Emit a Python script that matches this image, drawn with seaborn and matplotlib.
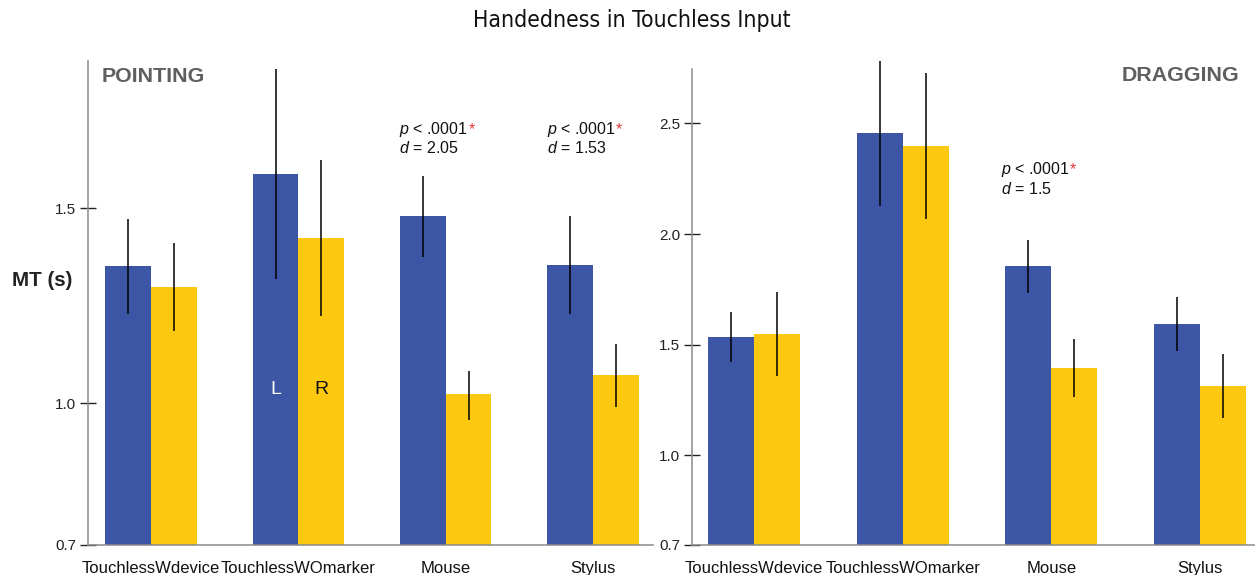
import numpy as np
import pandas as pd
import matplotlib
matplotlib.use("Agg")
import matplotlib.pyplot as plt
import matplotlib.transforms as mtransforms
from matplotlib.ticker import FormatStrFormatter
import seaborn as sns

# ---- data -------------------------------------------------------------
devices = ["TouchlessWdevice", "TouchlessWOmarker", "Mouse", "Stylus"]
hands = ["L", "R"]

# Pointing: mean movement time (s) and error half-widths
pointing_left = [1.352, 1.588, 1.480, 1.355]
pointing_right = [1.298, 1.424, 1.024, 1.072]
pointing_left_err = [0.122, 0.270, 0.104, 0.126]
pointing_right_err = [0.112, 0.200, 0.059, 0.079]

# Dragging: mean movement time (s) and error half-widths
dragging_left = [1.535, 2.456, 1.855, 1.593]
dragging_right = [1.548, 2.398, 1.395, 1.313]
dragging_left_err = [0.113, 0.327, 0.120, 0.122]
dragging_right_err = [0.190, 0.332, 0.132, 0.145]

# significance notes per panel
pointing_sig_devices = ["Mouse", "Stylus"]
pointing_sig_d = ["2.05", "1.53"]
dragging_sig_devices = ["Mouse"]
dragging_sig_d = ["1.5"]

pointing_yticks = [0.7, 1.0, 1.5]
dragging_yticks = [0.7, 1.0, 1.5, 2.0, 2.5]

# ---- style ------------------------------------------------------------
sns.set_theme(style="white")
plt.rcParams["font.family"] = ["Liberation Sans", "DejaVu Sans"]
plt.rcParams["mathtext.fontset"] = "custom"
plt.rcParams["mathtext.it"] = "Liberation Sans:italic"
plt.rcParams["mathtext.rm"] = "Liberation Sans"

BLUE = "#3C56A5"
YELLOW = "#FCC810"
SPINE = "#8a8a8a"
DARK = "#222222"

W, H = 1255, 575
fig = plt.figure(figsize=(W / 100, H / 100), dpi=100)


def px_axes(x0, x1, y_top, y_bottom):
    return fig.add_axes([x0 / W, 1 - y_bottom / H, (x1 - x0) / W, (y_bottom - y_top) / H])


def stretched_scale(ax, k):
    # values below 1.0 get a stretched band so the 0.7 floor sits on the baseline
    def fwd(y):
        y = np.asarray(y, dtype=float)
        return np.where(y >= 1.0, y, 1.0 - (1.0 - y) * k)

    def inv(v):
        v = np.asarray(v, dtype=float)
        return np.where(v >= 1.0, v, 1.0 - (1.0 - v) / k)

    ax.set_yscale("function", functions=(fwd, inv))


def draw_panel(ax, left, right, left_err, right_err, k, ytop, xlim, yticks):
    df = pd.DataFrame({
        "device": devices * 2,
        "hand": ["L"] * len(devices) + ["R"] * len(devices),
        "mt": list(left) + list(right),
    })
    sns.barplot(data=df, x="device", y="mt", hue="hand", order=devices,
                hue_order=hands, palette=[BLUE, YELLOW], width=0.62,
                errorbar=None, saturation=1, legend=False, linewidth=0, ax=ax)

    stretched_scale(ax, k)
    ax.set_ylim(0.7, ytop)
    ax.set_xlim(*xlim)

    centers = {}
    for hand, cont, vals, errs in zip(hands, ax.containers[:2],
                                      [left, right], [left_err, right_err]):
        xs = [b.get_x() + b.get_width() / 2 for b in cont]
        centers[hand] = (xs, [b.get_x() for b in cont])
        vals = np.asarray(vals)
        errs = np.asarray(errs)
        ax.vlines(xs, vals - errs, vals + errs, colors="black",
                  linewidth=1.1, clip_on=False, zorder=3)

    ax.set_yticks(yticks)
    ax.yaxis.set_major_formatter(FormatStrFormatter("%.1f"))
    ax.yaxis.set_minor_locator(matplotlib.ticker.NullLocator())
    ax.tick_params(axis="y", left=True, direction="inout", length=11, width=1,
                   color=DARK, labelsize=11, pad=3, labelcolor=DARK)
    ax.tick_params(axis="x", bottom=False, length=0, labelsize=12, pad=11.5,
                   labelcolor="#111111")
    ax.set_xlabel("")
    ax.set_ylabel("")
    for s in ("top", "right"):
        ax.spines[s].set_visible(False)
    for s in ("left", "bottom"):
        ax.spines[s].set_color(SPINE)
        ax.spines[s].set_linewidth(1.1)
    return centers


def sig_note(ax, x, y1, y2, d_text, notes):
    t = ax.text(x, y1, r"$p$ < .0001", ha="left", va="baseline",
                fontsize=11.5, color="#111111")
    ax.text(x, y2, r"$d$ = " + d_text, ha="left", va="baseline",
            fontsize=11.5, color="#111111")
    notes.append(t)


ax_p = px_axes(88, 653, 61, 545)
ax_d = px_axes(692, 1255, 69, 545)

cp = draw_panel(ax_p, pointing_left, pointing_right, pointing_left_err,
                pointing_right_err, k=1.211, ytop=1.878,
                xlim=(-0.428, 3.407), yticks=pointing_yticks)
cd = draw_panel(ax_d, dragging_left, dragging_right, dragging_left_err,
                dragging_right_err, k=1.351, ytop=2.746,
                xlim=(-0.417, 3.37), yticks=dragging_yticks)

notes = []
for dev, d in zip(pointing_sig_devices, pointing_sig_d):
    i = devices.index(dev)
    sig_note(ax_p, cp["L"][1][i] - 0.005, 1.690, 1.641, d, notes)
for dev, d in zip(dragging_sig_devices, dragging_sig_d):
    i = devices.index(dev)
    sig_note(ax_d, cd["L"][1][i] - 0.03, 2.271, 2.181, d, notes)

# hand labels inside the second pointing group
j = devices.index("TouchlessWOmarker")
ax_p.text(cp["L"][0][j], 1.023, "L", ha="center", va="baseline",
          color="white", fontsize=14)
ax_p.text(cp["R"][0][j], 1.023, "R", ha="center", va="baseline",
          color="#111111", fontsize=14)

# headings
fig.text(632 / W, 1 - 21 / H, "Handedness in Touchless Input", ha="center",
         va="center", fontsize=16.5, family="DejaVu Sans",
         fontstretch="condensed", color="#111111")
fig.text(102 / W, 1 - 81.5 / H, "POINTING", ha="left", va="baseline",
         fontsize=15.4, fontweight="bold", color="#5f5f5f")
fig.text(1239 / W, 1 - 81 / H, "DRAGGING", ha="right", va="baseline",
         fontsize=15.4, fontweight="bold", color="#5f5f5f")
fig.text(42 / W, 1 - 286 / H, "MT (s)", ha="center", va="baseline",
         fontsize=14.8, fontweight="bold", color=DARK)

# red significance asterisk right after each p-value
fig.canvas.draw()
renderer = fig.canvas.get_renderer()
for t in notes:
    bb = t.get_window_extent(renderer)
    trans = mtransforms.offset_copy(t.get_transform(), fig=fig,
                                    x=bb.width * 72 / fig.dpi + 0.3, y=0,
                                    units="points")
    t.axes.text(*t.get_position(), "*", transform=trans, ha="left",
                va="baseline", fontsize=11.5, color="#e23a3a")

fig.savefig("out.png", dpi=100)
